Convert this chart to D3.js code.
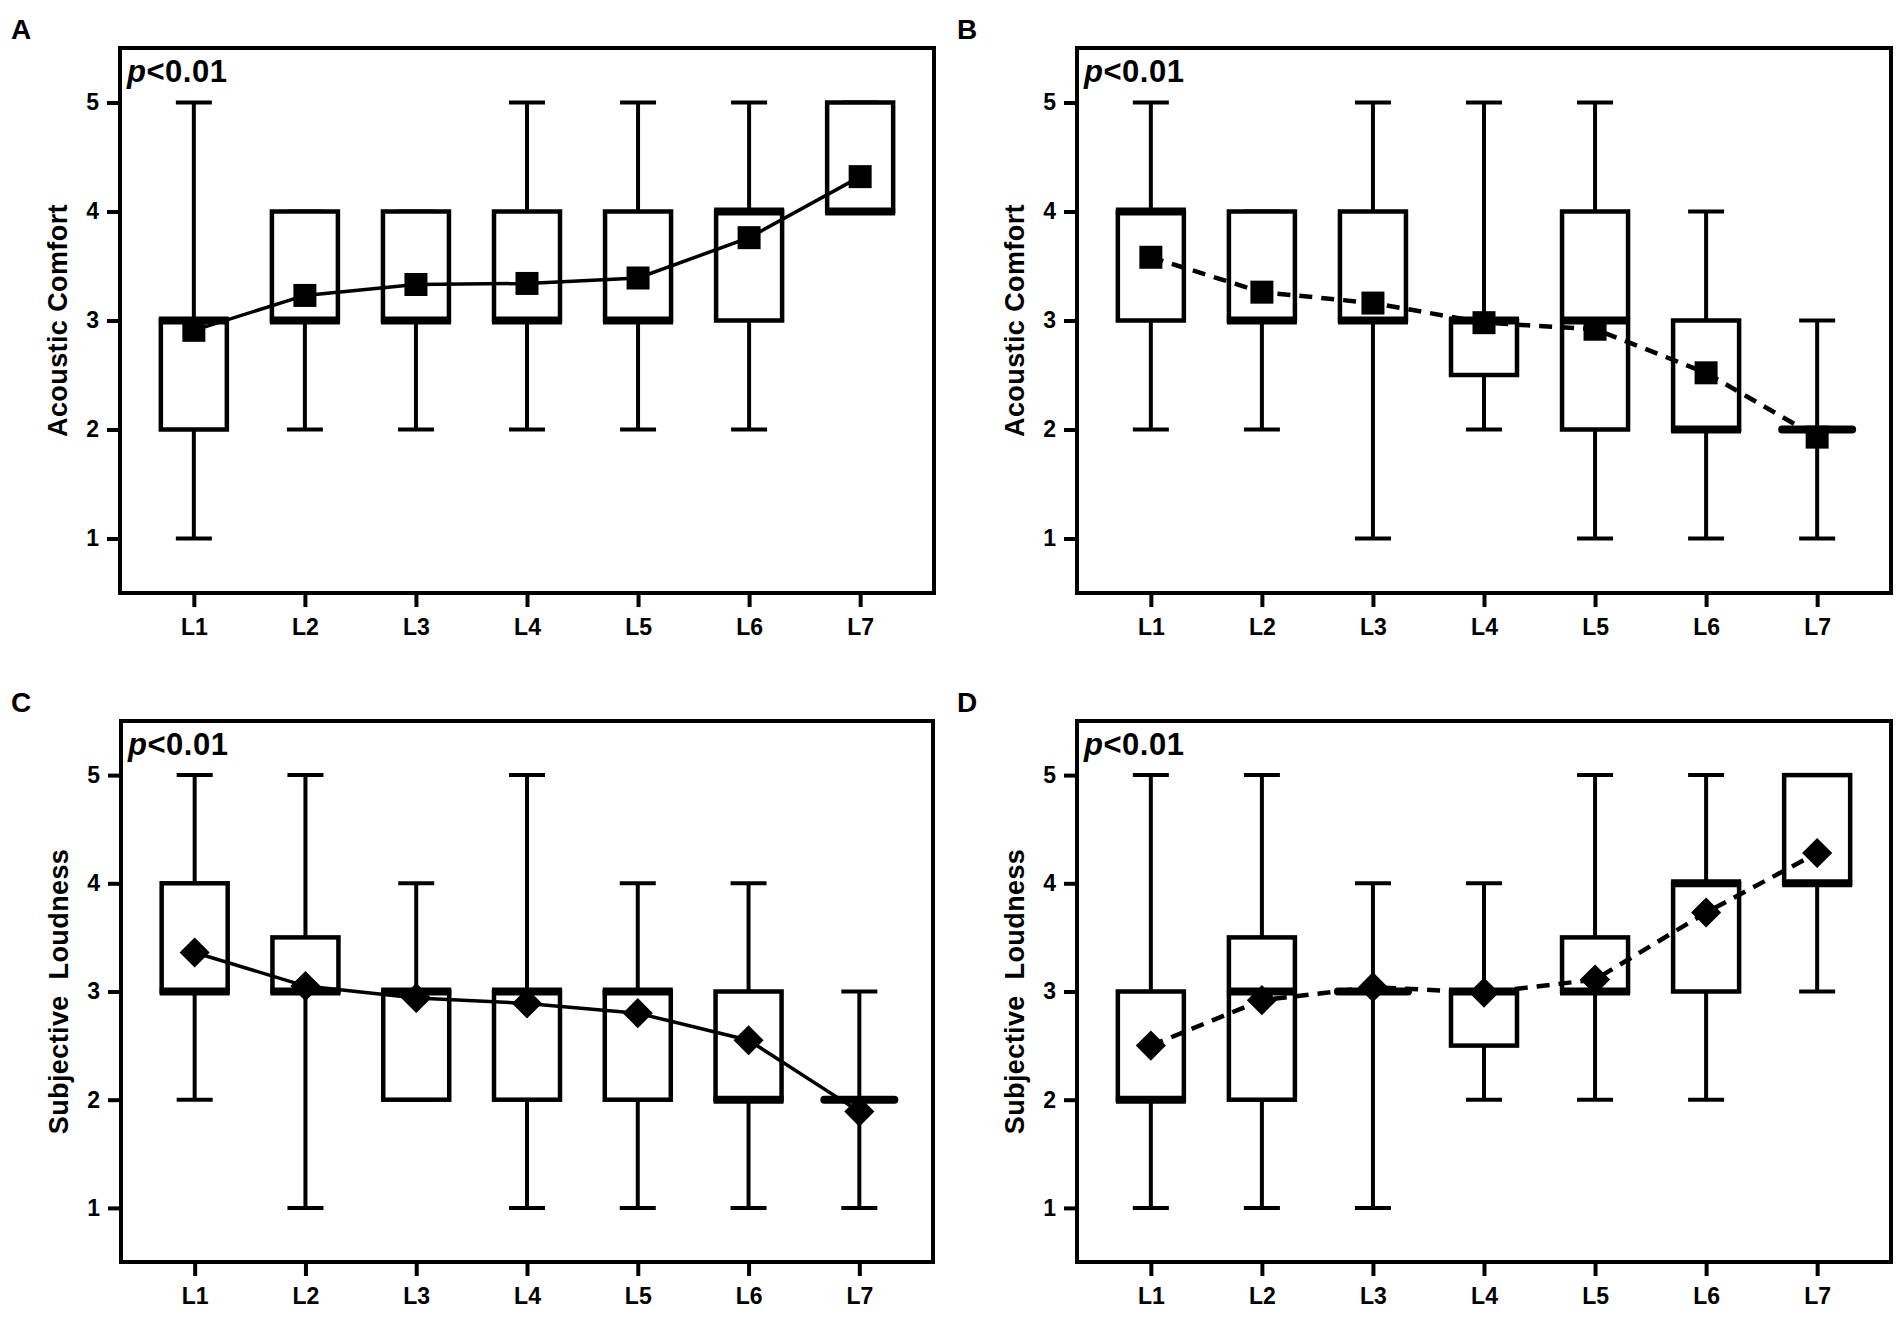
<!DOCTYPE html>
<html>
<head>
<meta charset="utf-8">
<script src="https://cdn.jsdelivr.net/npm/d3@7"></script>
<style>
  body { margin: 0; background: #fff; }
  svg { display: block; font-family: "Liberation Sans", Arial, sans-serif; }
</style>
</head>
<body>
<script>
const levels = ['L1', 'L2', 'L3', 'L4', 'L5', 'L6', 'L7'];
const y_ticks = [1, 2, 3, 4, 5];

// A: acoustic comfort, solid line
const a_min = [1, 2, 2, 2, 2, 2, 4];
const a_q1 = [2, 3, 3, 3, 3, 3, 4];
const a_med = [3, 3, 3, 3, 3, 4, 4];
const a_q3 = [3, 4, 4, 4, 4, 4, 5];
const a_max = [5, 4, 4, 5, 5, 5, 5];
const a_mean = [2.91, 3.23, 3.33, 3.34, 3.39, 3.76, 4.32];

// B: acoustic comfort, dashed line
const b_min = [2, 2, 1, 2, 1, 1, 1];
const b_q1 = [3, 3, 3, 2.5, 2, 2, 2];
const b_med = [4, 3, 3, 3, 3, 2, 2];
const b_q3 = [4, 4, 4, 3, 4, 3, 2];
const b_max = [5, 4, 5, 5, 5, 4, 3];
const b_mean = [3.58, 3.26, 3.16, 2.98, 2.92, 2.52, 1.93];

// C: subjective loudness, solid line
const c_min = [2, 1, 2, 1, 1, 1, 1];
const c_q1 = [3, 3, 2, 2, 2, 2, 2];
const c_med = [3, 3, 3, 3, 3, 2, 2];
const c_q3 = [4, 3.5, 3, 3, 3, 3, 2];
const c_max = [5, 5, 4, 5, 4, 4, 3];
const c_mean = [3.36, 3.05, 2.94, 2.89, 2.80, 2.55, 1.89];

// D: subjective loudness, dashed line
const d_min = [1, 1, 1, 2, 2, 2, 3];
const d_q1 = [2, 2, 3, 2.5, 3, 3, 4];
const d_med = [2, 3, 3, 3, 3, 4, 4];
const d_q3 = [3, 3.5, 3, 3, 3.5, 4, 5];
const d_max = [5, 5, 4, 4, 5, 5, 5];
const d_mean = [2.5, 2.92, 3.04, 2.99, 3.11, 3.73, 4.28];

const W = 1904, H = 1317;
const box_w = 66, cap_w = 36;

const svg = d3.select('body').append('svg').attr('width', W).attr('height', H);

const zip = (mn, q1, md, q3, mx, mean) => levels.map((l, i) => ({
    level: l, min: mn[i], q1: q1[i], med: md[i], q3: q3[i], max: mx[i], mean: mean[i]
}));

const panel = ({letter, title, rows, marker, dashed, left, right, top, bottom}) => {
    const x = d3.scalePoint().domain(levels).range([left, right]).padding(0.665);
    const y = d3.scaleLinear().domain([0.5, 5.5]).range([bottom, top]);
    const g = svg.append('g');

    // axes: ticks and labels only, the frame is drawn separately
    const ya = g.append('g')
        .attr('transform', `translate(${left}, 0)`)
        .call(d3.axisLeft(y).tickValues(y_ticks).tickSize(13).tickPadding(8).tickFormat(d3.format('d')));
    const xa = g.append('g')
        .attr('transform', `translate(0, ${bottom})`)
        .call(d3.axisBottom(x).tickSize(14).tickPadding(12));
    [ya, xa].forEach(a => {
        a.select('.domain').remove();
        a.attr('font-family', null).attr('font-size', 23);
        a.selectAll('line').attr('stroke', '#000').attr('stroke-width', 4);
        a.selectAll('text').attr('fill', '#000').attr('font-weight', 'bold');
    });

    g.append('rect')
        .attr('x', left).attr('y', top)
        .attr('width', right - left).attr('height', bottom - top)
        .attr('fill', 'none').attr('stroke', '#000').attr('stroke-width', 4);

    const items = g.append('g').selectAll('g').data(rows).join('g');

    // whiskers
    items.append('line')
        .attr('x1', d => x(d.level)).attr('x2', d => x(d.level))
        .attr('y1', d => y(d.max)).attr('y2', d => y(d.min))
        .attr('stroke', '#000').attr('stroke-width', 4);
    items.append('line')
        .attr('x1', d => x(d.level) - cap_w / 2).attr('x2', d => x(d.level) + cap_w / 2)
        .attr('y1', d => y(d.max)).attr('y2', d => y(d.max))
        .attr('stroke', '#000').attr('stroke-width', 4);
    items.append('line')
        .attr('x1', d => x(d.level) - cap_w / 2).attr('x2', d => x(d.level) + cap_w / 2)
        .attr('y1', d => y(d.min)).attr('y2', d => y(d.min))
        .attr('stroke', '#000').attr('stroke-width', 4);

    // boxes
    items.append('rect')
        .attr('x', d => x(d.level) - box_w / 2)
        .attr('y', d => y(d.q3))
        .attr('width', box_w)
        .attr('height', d => y(d.q1) - y(d.q3))
        .attr('fill', '#fff').attr('stroke', '#000').attr('stroke-width', 4.5);

    // median
    items.append('line')
        .attr('x1', d => x(d.level) - box_w / 2 - 2).attr('x2', d => x(d.level) + box_w / 2 + 2)
        .attr('y1', d => y(d.med)).attr('y2', d => y(d.med))
        .attr('stroke', '#000').attr('stroke-width', 8)
        .attr('stroke-linecap', d => d.q1 === d.q3 ? 'round' : 'butt');

    // line through the means
    g.append('path')
        .datum(rows)
        .attr('fill', 'none')
        .attr('stroke', '#000')
        .attr('stroke-width', dashed ? 4.5 : 3.5)
        .attr('stroke-dasharray', dashed ? '13,9' : null)
        .attr('d', d3.line().x(d => x(d.level)).y(d => y(d.mean)));

    const sym = marker === 'square'
        ? d3.symbol().type(d3.symbolSquare).size(23 * 23)
        : d3.symbol().type(d3.symbolDiamond2).size(2 * 17 * 17);
    g.append('g').selectAll('path')
        .data(rows)
        .join('path')
        .attr('transform', d => `translate(${x(d.level)}, ${y(d.mean)})`)
        .attr('d', sym)
        .attr('fill', '#000');

    // texts
    const p = g.append('text')
        .attr('x', left + 7).attr('y', top + 34)
        .attr('font-size', 31).attr('font-weight', 'bold')
        .attr('letter-spacing', 0.5).attr('fill', '#000');
    p.append('tspan').attr('font-style', 'italic').text('p');
    p.append('tspan').text('<0.01');

    g.append('text')
        .attr('transform', `translate(${left - 53}, ${(top + bottom) / 2}) rotate(-90)`)
        .attr('text-anchor', 'middle')
        .attr('font-size', 27).attr('font-weight', 'bold')
        .attr('letter-spacing', 0.4)
        .style('white-space', 'pre')
        .text(title);

    svg.append('text')
        .attr('x', left < 500 ? 11 : 957).attr('y', top - 9)
        .attr('font-size', 28).attr('font-weight', 'bold')
        .text(letter);
};

panel({ letter: 'A', title: 'Acoustic Comfort', marker: 'square', dashed: false,
    rows: zip(a_min, a_q1, a_med, a_q3, a_max, a_mean), left: 120, right: 934, top: 48, bottom: 593 });
panel({ letter: 'B', title: 'Acoustic Comfort', marker: 'square', dashed: true,
    rows: zip(b_min, b_q1, b_med, b_q3, b_max, b_mean), left: 1077, right: 1891, top: 48, bottom: 593 });
panel({ letter: 'C', title: 'Subjective  Loudness', marker: 'diamond', dashed: false,
    rows: zip(c_min, c_q1, c_med, c_q3, c_max, c_mean), left: 121, right: 933, top: 721, bottom: 1262 });
panel({ letter: 'D', title: 'Subjective  Loudness', marker: 'diamond', dashed: true,
    rows: zip(d_min, d_q1, d_med, d_q3, d_max, d_mean), left: 1077, right: 1891, top: 721, bottom: 1262 });
</script>
</body>
</html>
